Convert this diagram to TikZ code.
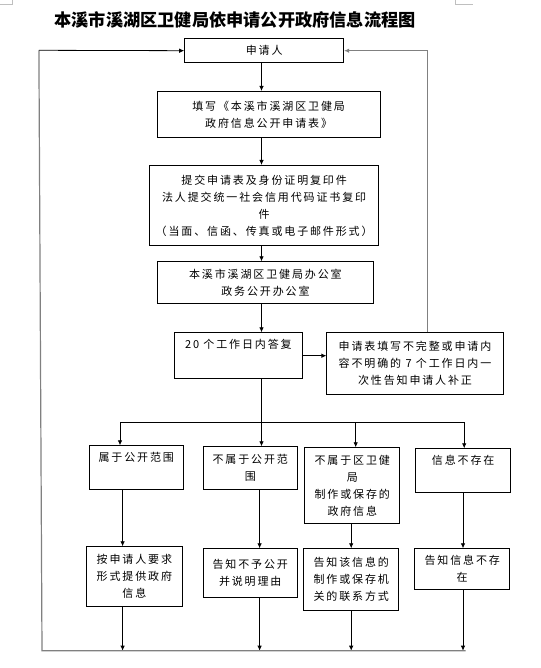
\documentclass[tikz,border=0pt]{standalone}
\usepackage{fontspec}
\usetikzlibrary{arrows.meta}
\newfontfamily\cjk[LetterSpace=17]{Noto Sans CJK SC}
\newfontfamily\cjktitle{Noto Sans CJK SC}

\tikzset{
  box/.style={draw, line width=0.8pt, align=center, inner sep=0pt, anchor=north west,
    font=\cjk\fontsize{11}{17}\selectfont},
  link/.style={-{Latex[length=5pt,width=4.5pt]}, line width=0.8pt},
  backline/.style={draw=black!50, line width=1.2pt}
}

\begin{document}
\begin{tikzpicture}[x=1pt,y=-1pt]
  \fill[white] (0,0) rectangle (540,668);
  \useasboundingbox (0,0) rectangle (540,668);
  \draw[black!25, line width=0.6pt] (0,4) -- (12,4) -- (12,0) (455.7,0) -- (455.7,4) -- (473,4);

  \node[font=\cjktitle\bfseries\fontsize{17.2}{20}\selectfont] (title) at (235,20) {本溪市溪湖区卫健局依申请公开政府信息流程图};

  \node[box, minimum width=159.1pt, minimum height=24pt] (apply) at (184.2,38.3) {申请人};
  \node[box, minimum width=223.1pt, minimum height=46pt] (fill) at (156.7,91) {填写《本溪市溪湖区卫健局\\政府信息公开申请表》};
  \node[box, minimum width=229.3pt, minimum height=80.3pt] (submit) at (149.1,165) {提交申请表及身份证明复印件\\法人提交统一社会信用代码证书复印\\件\\（当面、信函、传真或电子邮件形式）};
  \node[box, minimum width=216.6pt, minimum height=42pt] (office) at (156.7,261.3) {本溪市溪湖区卫健局办公室\\政务公开办公室};
  \node[box, minimum width=127.5pt, text height=16pt, text depth=30pt] (reply) at (174.2,332.3) {20 个工作日内答复};
  \node[box, minimum width=176.4pt, minimum height=62pt] (amend) at (326.4,332.3) {申请表填写不完整或申请内\\容不明确的 7 个工作日内一\\次性告知申请人补正};

  \node[box, minimum width=94.7pt, text height=16pt, text depth=28pt] (open) at (88.5,445.3) {属于公开范围};
  \node[box, minimum width=94.7pt, minimum height=43pt] (closed) at (202.5,446.3) {不属于公开范\\围};
  \node[box, minimum width=95pt, minimum height=76pt] (elsewhere) at (304.4,447.3) {不属于区卫健\\局\\制作或保存的\\政府信息};
  \node[box, minimum width=95pt, text height=16pt, text depth=28pt] (missing) at (415.3,448.3) {信息不存在};

  \node[box, minimum width=95.1pt, minimum height=60pt] (provide) at (86.4,546.3) {按申请人要求\\形式提供政府\\信息};
  \node[box, minimum width=94.7pt, minimum height=49pt] (refuse) at (202.5,548.3) {告知不予公开\\并说明理由};
  \node[box, minimum width=95pt, minimum height=62pt] (refer) at (303.4,548.3) {告知该信息的\\制作或保存机\\关的联系方式};
  \node[box, minimum width=95pt, minimum height=41pt] (absent) at (414.3,548.3) {告知信息不存\\在};

  \coordinate (spine) at (261.5,0);
  \coordinate (forkA) at (120,422.3);
  \coordinate (forkC) at (355.7,422.3);
  \coordinate (forkD) at (464.2,422.3);
  \coordinate (loopBL) at (42,650.7);
  \coordinate (loopBR) at (465.6,650.7);
  \coordinate (loopTL) at (38.9,50.3);
  \coordinate (rise) at (427.6,0);

  \draw[link] (apply.south -| spine) -- (spine |- fill.north);
  \draw[link] (fill.south -| spine) -- (spine |- submit.north);
  \draw[link] (submit.south -| spine) -- (spine |- office.north);
  \draw[link] (office.south -| spine) -- (spine |- reply.north);
  \draw[link] (reply.east) -- (reply.east -| amend.west);
  \draw[link] (reply.south -| spine) -- (spine |- closed.north);

  \draw[line width=0.8pt] (forkA) -- (forkD);
  \draw[link] (forkA) -- (forkA |- open.north);
  \draw[link] (forkC) -- (forkC |- elsewhere.north);
  \draw[link] (forkD) -- (forkD |- missing.north);

  \foreach \up/\down/\x in {open/provide/122.6, closed/refuse/259.6, elsewhere/refer/351.2, missing/absent/463} {
    \draw[link] (\up.south -| \x,0) -- (\x,0 |- \down.north);
    \draw[link] (\down.south -| \x,0) -- (\x,0 |- loopBL);
  }

  \draw[backline] (loopBR) -- (loopBL) -- (loopTL);
  \draw[link] (loopTL) -- (apply.west);
  \draw[link, backline] (rise |- amend.north) -- (rise |- apply.east) -- (apply.east);
\end{tikzpicture}
\end{document}
